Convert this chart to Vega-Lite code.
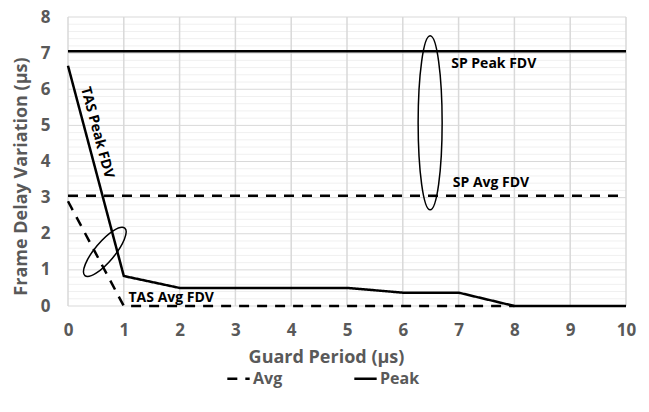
{
  "$schema": "https://vega.github.io/schema/vega-lite/v6.json",
  "width": 558,
  "height": 289,
  "autosize": {"type": "none"},
  "padding": {"left": 68, "top": 17, "right": 23, "bottom": 106},
  "background": "white",
  "config": {
    "view": {"stroke": null},
    "font": "Open Sans",
    "axis": {
      "labelFont": "Open Sans", "labelFontWeight": "bold", "labelColor": "#595959", "labelFontSize": 17,
      "titleFont": "Open Sans", "titleFontWeight": "bold", "titleColor": "#595959", "titleFontSize": 18,
      "domain": false, "ticks": false, "labelFlush": false, "labelOverlap": false, "grid": false
    }
  },
  "datasets": {
    "lines": [
      {"x": 0, "y": 6.65, "series": "TAS Peak", "type": "Peak"},
      {"x": 1, "y": 0.83, "series": "TAS Peak", "type": "Peak"},
      {"x": 2, "y": 0.5, "series": "TAS Peak", "type": "Peak"},
      {"x": 3, "y": 0.5, "series": "TAS Peak", "type": "Peak"},
      {"x": 4, "y": 0.5, "series": "TAS Peak", "type": "Peak"},
      {"x": 5, "y": 0.5, "series": "TAS Peak", "type": "Peak"},
      {"x": 6, "y": 0.37, "series": "TAS Peak", "type": "Peak"},
      {"x": 7, "y": 0.37, "series": "TAS Peak", "type": "Peak"},
      {"x": 8, "y": 0, "series": "TAS Peak", "type": "Peak"},
      {"x": 9, "y": 0, "series": "TAS Peak", "type": "Peak"},
      {"x": 10, "y": 0, "series": "TAS Peak", "type": "Peak"},
      {"x": 0, "y": 2.9, "series": "TAS Avg", "type": "Avg"},
      {"x": 1, "y": 0, "series": "TAS Avg", "type": "Avg"},
      {"x": 2, "y": 0, "series": "TAS Avg", "type": "Avg"},
      {"x": 3, "y": 0, "series": "TAS Avg", "type": "Avg"},
      {"x": 4, "y": 0, "series": "TAS Avg", "type": "Avg"},
      {"x": 5, "y": 0, "series": "TAS Avg", "type": "Avg"},
      {"x": 6, "y": 0, "series": "TAS Avg", "type": "Avg"},
      {"x": 7, "y": 0, "series": "TAS Avg", "type": "Avg"},
      {"x": 8, "y": 0, "series": "TAS Avg", "type": "Avg"},
      {"x": 0, "y": 7.05, "series": "SP Peak", "type": "Peak"},
      {"x": 10, "y": 7.05, "series": "SP Peak", "type": "Peak"},
      {"x": 0, "y": 3.05, "series": "SP Avg", "type": "Avg"},
      {"x": 10, "y": 3.05, "series": "SP Avg", "type": "Avg"}
    ],
    "labels": [
      {"x": 0.52, "y": 4.8, "text": "TAS Peak FDV", "angle": 75},
      {"x": 1.85, "y": 0.23, "text": "TAS Avg FDV", "angle": 0},
      {"x": 7.63, "y": 6.7, "text": "SP Peak FDV", "angle": 0},
      {"x": 7.58, "y": 3.4, "text": "SP Avg FDV", "angle": 0}
    ],
    "ellipses": [
      {"x": 6.49, "y": 5.07, "shape": "tall"},
      {"x": 0.66, "y": 1.5, "shape": "small"}
    ],
    "vgrid": [
      {"x": 0, "y": 0}, {"x": 1, "y": 0}, {"x": 2, "y": 0}, {"x": 3, "y": 0}, {"x": 4, "y": 0}, {"x": 5, "y": 0},
      {"x": 6, "y": 0}, {"x": 7, "y": 0}, {"x": 8, "y": 0}, {"x": 9, "y": 0}, {"x": 10, "y": 0}
    ],
    "hgrid": [
      {"x": 0, "y": 0, "major": true}, {"x": 0, "y": 0.2, "major": false}, {"x": 0, "y": 0.4, "major": false}, {"x": 0, "y": 0.6, "major": false}, {"x": 0, "y": 0.8, "major": false},
      {"x": 0, "y": 1, "major": true}, {"x": 0, "y": 1.2, "major": false}, {"x": 0, "y": 1.4, "major": false}, {"x": 0, "y": 1.6, "major": false}, {"x": 0, "y": 1.8, "major": false},
      {"x": 0, "y": 2, "major": true}, {"x": 0, "y": 2.2, "major": false}, {"x": 0, "y": 2.4, "major": false}, {"x": 0, "y": 2.6, "major": false}, {"x": 0, "y": 2.8, "major": false},
      {"x": 0, "y": 3, "major": true}, {"x": 0, "y": 3.2, "major": false}, {"x": 0, "y": 3.4, "major": false}, {"x": 0, "y": 3.6, "major": false}, {"x": 0, "y": 3.8, "major": false},
      {"x": 0, "y": 4, "major": true}, {"x": 0, "y": 4.2, "major": false}, {"x": 0, "y": 4.4, "major": false}, {"x": 0, "y": 4.6, "major": false}, {"x": 0, "y": 4.8, "major": false},
      {"x": 0, "y": 5, "major": true}, {"x": 0, "y": 5.2, "major": false}, {"x": 0, "y": 5.4, "major": false}, {"x": 0, "y": 5.6, "major": false}, {"x": 0, "y": 5.8, "major": false},
      {"x": 0, "y": 6, "major": true}, {"x": 0, "y": 6.2, "major": false}, {"x": 0, "y": 6.4, "major": false}, {"x": 0, "y": 6.6, "major": false}, {"x": 0, "y": 6.8, "major": false},
      {"x": 0, "y": 7, "major": true}, {"x": 0, "y": 7.2, "major": false}, {"x": 0, "y": 7.4, "major": false}, {"x": 0, "y": 7.6, "major": false}, {"x": 0, "y": 7.8, "major": false},
      {"x": 0, "y": 8, "major": true}
    ]
  },
  "encoding": {
    "x": {"field": "x", "type": "quantitative", "scale": {"domain": [0, 10], "nice": false},
          "axis": {"title": "Guard Period (µs)", "values": [0,1,2,3,4,5,6,7,8,9,10], "labelPadding": 16, "titlePadding": 10, "titleX": 258}},
    "y": {"field": "y", "type": "quantitative", "scale": {"domain": [0, 8], "nice": false},
          "axis": {"title": "Frame Delay Variation (µs)", "labelPadding": 18, "titlePadding": 10, "titleY": 159,
                   "values": [0,1,2,3,4,5,6,7,8], "format": "d"}}
  },
  "layer": [
    {
      "data": {"name": "hgrid"},
      "mark": {"type": "rule", "strokeWidth": 1},
      "encoding": {
        "x2": {"datum": 10},
        "color": {"condition": {"test": "datum.major", "value": "#d9d9d9"}, "value": "#f0f0f0"},
        "strokeWidth": {"condition": {"test": "datum.major", "value": 1.5}, "value": 1}
      }
    },
    {
      "data": {"name": "vgrid"},
      "mark": {"type": "rule", "strokeWidth": 1.5, "color": "#d9d9d9"},
      "encoding": {
        "y2": {"datum": 8}
      }
    },
    {
      "data": {"name": "lines"},
      "mark": {"type": "line", "color": "black", "strokeWidth": 2.5, "strokeCap": "butt"},
      "encoding": {
        "detail": {"field": "series"},
        "strokeDash": {"field": "type", "type": "nominal",
          "scale": {"domain": ["Avg", "Peak"], "range": [[10, 8], [1, 0]]},
          "legend": {"title": null, "orient": "none", "legendX": 158, "legendY": 349, "direction": "horizontal",
                     "symbolType": "stroke", "symbolStrokeColor": "black", "symbolStrokeWidth": 2.5, "symbolSize": 500,
                     "labelFont": "Open Sans", "labelFontWeight": "bold", "labelColor": "#595959", "labelFontSize": 16,
                     "columnPadding": 66, "labelOffset": 2}}
      }
    },
    {
      "data": {"name": "labels"},
      "mark": {"type": "text", "font": "Open Sans", "fontWeight": "bold", "fontSize": 14, "color": "black", "baseline": "middle", "align": "center"},
      "encoding": {
        "text": {"field": "text"},
        "angle": {"field": "angle", "type": "quantitative", "scale": null}
      }
    },
    {
      "data": {"name": "ellipses"},
      "transform": [{"filter": "datum.shape === 'tall'"}],
      "mark": {"type": "point", "filled": false, "color": "black", "strokeWidth": 1.5, "opacity": 1, "size": 30276,
               "shape": "M 0 -1 A 0.138 1 0 1 0 0 1 A 0.138 1 0 1 0 0 -1 Z"},
      "encoding": {}
    },
    {
      "data": {"name": "ellipses"},
      "transform": [{"filter": "datum.shape === 'small'"}],
      "mark": {"type": "point", "filled": false, "color": "black", "strokeWidth": 1.5, "opacity": 1, "size": 3844, "angle": 40,
               "shape": "M 0 -1 A 0.32 1 0 1 0 0 1 A 0.32 1 0 1 0 0 -1 Z"},
      "encoding": {}
    }
  ]
}
